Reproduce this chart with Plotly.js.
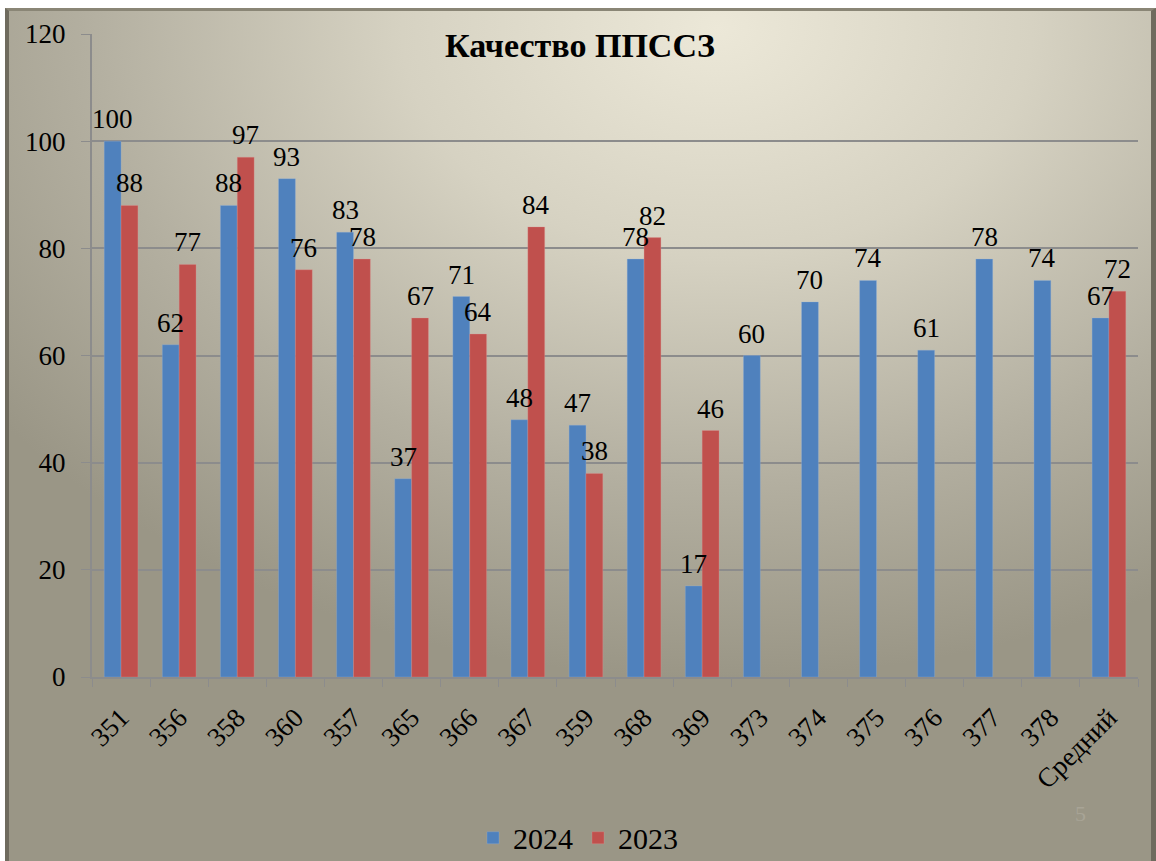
<!DOCTYPE html>
<html><head><meta charset="utf-8">
<script src="https://cdn.plot.ly/plotly-3.0.1.min.js"></script>
<style>
html,body{margin:0;padding:0;background:#fff;width:1156px;height:861px;overflow:hidden;}
#bg{position:absolute;left:5px;top:8px;width:1151px;height:853px;box-sizing:border-box;
border-left:4px solid #6f6b5e;border-top:3px solid #8a8676;border-right:5px solid #6f6b5e;
background:radial-gradient(ellipse 900px 650px at 62% 2%, #ece8d8 0%, #d6d2c2 35%, #b3afa0 70%, #9a9686 100%);}
#chart{position:absolute;left:0;top:0;width:1156px;height:861px;}
</style></head><body>
<div id="bg"></div>
<div id="chart"></div>
<script>
const categories = ["351","356","358","360","357","365","366","367","359","368","369","373","374","375","376","377","378","Средний"];
const values2024 = [100,62,88,93,83,37,71,48,47,78,17,60,70,74,61,78,74,67];
const values2023 = [88,77,97,76,78,67,64,84,38,82,46,null,null,null,null,null,null,72];
const seriesNames = ["2024","2023"];
const yTicks = [0,20,40,60,80,100,120];

const serif = "Liberation Serif, Times New Roman, serif";
const traces = [
 {type:"bar", name:seriesNames[0], x:categories, y:values2024, marker:{color:"#4f81bd", line:{color:"rgba(150,180,220,0.6)",width:0.5}}, hoverinfo:"none"},
 {type:"bar", name:seriesNames[1], x:categories, y:values2023, marker:{color:"#c0504d", line:{color:"rgba(225,150,150,0.6)",width:0.5}}, hoverinfo:"none"}
];

// data labels drawn on top, positioned through the axis scales (category index)
const annotations = [];
function addLabels(vals, shift){
  vals.forEach((v,i)=>{
    if(v===null) return;
    annotations.push({x:i, y:v, xref:"x", yref:"y", text:String(v), showarrow:false,
      xanchor:"center", yanchor:"bottom", xshift:shift, yshift:5,
      font:{family:serif,size:27,color:"#000"}});
  });
}
addLabels(values2024, -8.5);
addLabels(values2023, 8.5);
annotations.push({text:"<b>Качество ППССЗ</b>", xref:"paper", yref:"paper", x:0.4665, y:1.0, yanchor:"middle", xanchor:"center", yshift:-11, showarrow:false, font:{family:serif,size:34,color:"#000"}});
annotations.push({text:"5", xref:"paper", yref:"paper", x:0.952, y:-0.235, showarrow:false, font:{family:serif,size:22,color:"#a8a496"}});

const layout = {
 width:1156, height:861,
 paper_bgcolor:"rgba(0,0,0,0)", plot_bgcolor:"rgba(0,0,0,0)",
 margin:{l:92,r:18,t:34,b:184, autoexpand:false},
 barmode:"group", bargap:0.42, bargroupgap:0,
 showlegend:true,
 legend:{orientation:"h", x:0.5, xanchor:"center", xref:"container", y:0.027, yref:"container", yanchor:"middle", font:{family:serif,size:30,color:"#000"}, traceorder:"normal"},
 xaxis:{type:"category", categoryorder:"array", categoryarray:categories, range:[-0.5, categories.length-0.5],
  tickangle:-45, tickfont:{family:serif,size:27,color:"#000"}, ticklabelstandoff:12,
  showline:true, linecolor:"#8c8c8c", linewidth:2, ticks:"outside", ticklen:8, tickcolor:"#8c8c8c", tickson:"boundaries", showgrid:false, automargin:false},
 yaxis:{range:[0,120], tickvals:yTicks, ticktext:yTicks.map(String), tickfont:{family:serif,size:27,color:"#000"}, ticklabelstandoff:10,
  showline:true, linecolor:"#8c8c8c", linewidth:2, ticks:"outside", ticklen:9, tickcolor:"#8c8c8c",
  showgrid:true, gridcolor:"#8c8c8c", gridwidth:2, zeroline:false, automargin:false},
 annotations:annotations
};
Plotly.newPlot("chart", traces, layout, {displayModeBar:false, staticPlot:true});
</script>
</body></html>
